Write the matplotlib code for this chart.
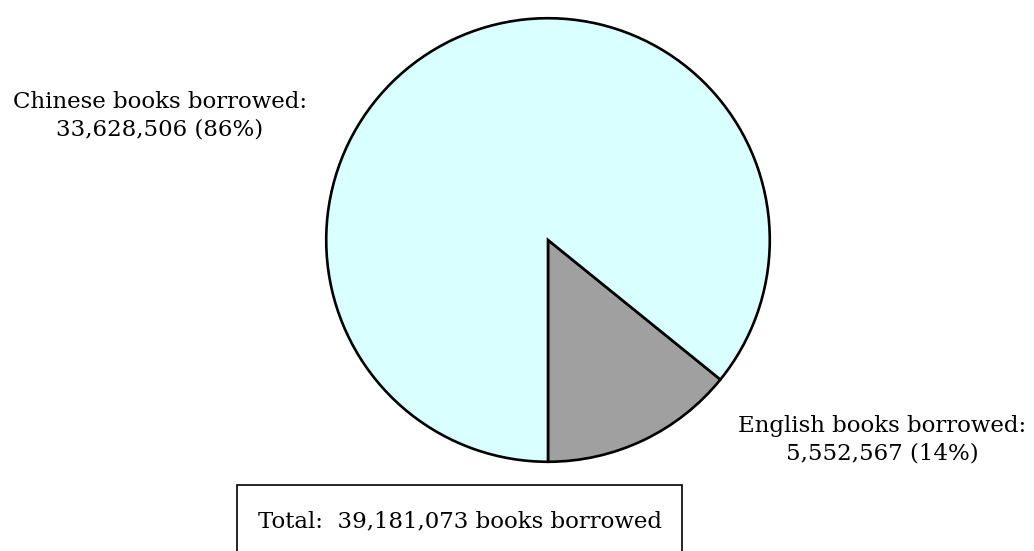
import matplotlib.pyplot as plt
from matplotlib.patches import Rectangle

# Data
categories = ['English', 'Chinese']
borrowed = [5552567, 33628506]
colors = ['#a0a0a0', '#d9ffff']
total = 39181073

W, H = 1034, 551
plt.rcParams['font.family'] = ['DejaVu Serif']
fig = plt.figure(figsize=(W / 100, H / 100), dpi=100)

# Pie axes: centre (548, 240) px, radius 224 px
cx, cy, r = 548, 240, 224
ax = fig.add_axes([(cx - r) / W, (H - cy - r) / H, 2 * r / W, 2 * r / H])
ax.pie(borrowed, colors=colors, startangle=-90, counterclock=True,
       wedgeprops=dict(edgecolor='black', linewidth=1.9))
ax.set_xlim(-1.01, 1.01)
ax.set_ylim(-1.01, 1.01)
ax.set_aspect('equal')
ax.axis('off')

pct = [v / total * 100 for v in borrowed]
fs = 16.5
fig.text(160 / W, 1 - 116 / H,
         f'Chinese books borrowed:\n{borrowed[1]:,} ({pct[1]:.0f}%)',
         ha='center', va='center', fontsize=fs, linespacing=1.35)
fig.text(882 / W, 1 - 440 / H,
         f'English books borrowed:\n{borrowed[0]:,} ({pct[0]:.0f}%)',
         ha='center', va='center', fontsize=fs, linespacing=1.35)

# Total box (runs off bottom edge)
fig.patches.append(Rectangle((237 / W, -0.05), (682 - 237) / W, 0.05 + (H - 485) / H,
                             transform=fig.transFigure, fill=False,
                             edgecolor='black', linewidth=1.2))
fig.text(460 / W, 1 - 521 / H, f'Total:  {total:,} books borrowed',
         ha='center', va='center', fontsize=fs)

plt.savefig('out.png', dpi=100)
